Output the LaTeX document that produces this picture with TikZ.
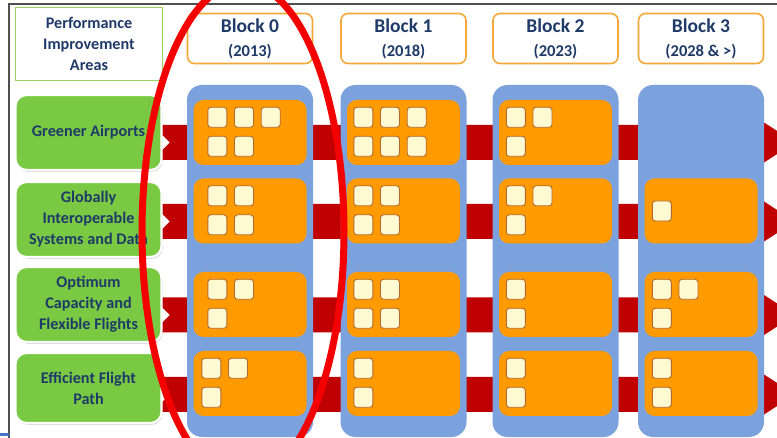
\documentclass[tikz,border=0pt]{standalone}
\usepackage{fontspec}
\setmainfont{Carlito}
\usepackage{xcolor}
\definecolor{areaGreen}{HTML}{7AC943}
\definecolor{headGreen}{HTML}{9BD35A}
\definecolor{textNavy}{HTML}{1F3A68}
\definecolor{blockOrange}{HTML}{F5A83A}
\definecolor{colBlue}{HTML}{7BA2DD}
\definecolor{cellOrange}{HTML}{FF9A00}
\definecolor{sqCream}{HTML}{FFFAD2}
\definecolor{sqBrown}{HTML}{B26A2E}
\definecolor{bandRed}{HTML}{C00000}
\definecolor{ringRed}{HTML}{F50000}
\definecolor{frameGray}{HTML}{505050}
\definecolor{edgeBlue}{HTML}{4472C4}
\usepackage{tikz}
\usetikzlibrary{shadows}

\begin{document}
\begin{tikzpicture}[x=1pt, y=-1pt,
    every node/.style={font=\bfseries, text=textNavy},
    pia/.style={draw=headGreen, line width=1.6pt, fill=white, minimum width=147pt,
                minimum height=73pt, align=center, inner sep=2pt,
                font=\bfseries\fontsize{16.2}{21}\selectfont},
    area/.style={draw=white, line width=2.2pt, fill=areaGreen, rounded corners=11pt,
                 minimum width=146pt, align=center, inner sep=2pt,
                 font=\bfseries\fontsize{16.2}{21}\selectfont,
                 drop shadow={shadow xshift=1.2pt, shadow yshift=-1.8pt, opacity=0.3}},
    blk/.style={draw=blockOrange, line width=1.6pt, fill=white, rounded corners=7pt,
                minimum width=125pt, minimum height=50pt, align=center, inner sep=1pt,
                font=\bfseries\fontsize{19.5}{24}\selectfont},
    col/.style={fill=colBlue, rounded corners=15pt, minimum width=126pt,
                minimum height=352pt, inner sep=0pt},
    cell/.style={fill=cellOrange, rounded corners=10pt, minimum width=113pt,
                 minimum height=65pt, inner sep=0pt},
    sq/.style={draw=sqBrown, line width=0.9pt, fill=sqCream, rounded corners=3pt,
               minimum width=19pt, minimum height=20pt, inner sep=0pt},
    band/.style={fill=bandRed},
    ring/.style={draw=ringRed, line width=7pt}]
  \useasboundingbox (0,0) rectangle (777,438);
  \foreach \m in {142.5,221.5,315,394.5}
    \fill[band] (152,\m-17.5) -- (764,\m-17.5) -- (764,\m-20) -- (795,\m)
      -- (764,\m+20) -- (764,\m+17.5) -- (152,\m+17.5) -- (170,\m) -- cycle;
  \node[pia] (pia) at (89,44) {Performance\\Improvement\\Areas};
  \foreach \c/\x/\yr in {0/250/2013, 1/403.5/2018, 2/555.5/2023, 3/701/2028 \& >} {
    \node[col] (col\c) at (\x,261) {};
    \node[blk] (blk\c) at (\x,38.5) {Block \c\\{\fontsize{16.5}{24}\selectfont (\yr)}};
  }
  \node[area, minimum height=75pt] (greener)   at (88.5,132.5) {Greener Airports};
  \node[area, minimum height=75pt] (globally)  at (88.5,219.5) {Globally\\Interoperable\\Systems and Data};
  \node[area, minimum height=75pt] (optimum)   at (88.5,304.5) {Optimum\\Capacity and\\Flexible Flights};
  \node[area, minimum height=70pt] (efficient) at (88.5,388)   {Efficient Flight\\Path};
  \coordinate (row1) at (0,132.5);
  \coordinate (row2) at (0,211);
  \coordinate (row3) at (0,304.5);
  \coordinate (row4) at (0,383.5);
  \foreach \c/\r/\t/\b/\o in {0/1/3/2/14, 0/2/2/2/14, 0/3/2/1/14, 0/4/2/1/8,
                               1/1/3/3/6.5, 1/2/2/2/6.5, 1/3/2/2/6.5, 1/4/1/1/6.5,
                               2/1/2/1/7, 2/2/2/1/7, 2/3/1/1/7, 2/4/1/1/7,
                               3/3/2/1/7.5, 3/4/1/1/7.5} {
    \node[cell] (cell\c\r) at (col\c |- row\r) {};
    \foreach \i in {1,...,\t}
      \node[sq] (sq\c\r a\i) at ([shift={(\o+10+26.7*\i-26.7,17.5)}]cell\c\r.north west) {};
    \foreach \i in {1,...,\b}
      \node[sq] (sq\c\r b\i) at ([shift={(\o+10+26.7*\i-26.7,46.5)}]cell\c\r.north west) {};
  }
  \node[cell] (cell32) at (col3 |- row2) {};
  \node[sq] (sq32a1) at ([xshift=17.5pt]cell32.west) {};
  \draw[frameGray, line width=1.2pt] (9,438) -- (9,4) -- (777,4);
  \draw[edgeBlue, line width=2.5pt] (0,434.5) -- (9,434.5);
  \draw[ring] (243,232) ellipse [x radius=101pt, y radius=249pt];
\end{tikzpicture}
\end{document}
